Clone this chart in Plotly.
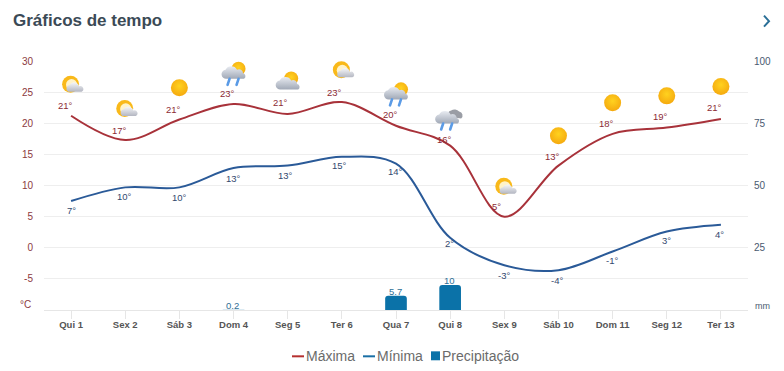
import base64
import plotly.graph_objects as go

days = ["Qui 1", "Sex 2", "Sáb 3", "Dom 4", "Seg 5", "Ter 6", "Qua 7", "Qui 8", "Sex 9", "Sáb 10", "Dom 11", "Seg 12", "Ter 13"]
tmax_curve = [21.2, 17.3, 20.6, 23.1, 21.5, 23.4, 19.6, 16.4, 5.0, 13.2, 18.3, 19.3, 20.7]
tmin_curve = [7.5, 9.7, 9.7, 12.8, 13.2, 14.6, 13.5, 1.6, -2.8, -3.6, -0.6, 2.6, 3.7]
tmax_labels = ["21°", "17°", "21°", "23°", "21°", "23°", "20°", "16°", "5°", "13°", "18°", "19°", "21°"]
tmin_labels = ["7°", "10°", "10°", "13°", "13°", "15°", "14°", "2°", "-3°", "-4°", "-1°", "3°", "4°"]
precip = [0, 0, 0, 0.2, 0, 0, 5.7, 10, 0, 0, 0, 0, 0]
precip_labels = ["", "", "", "0.2", "", "", "5.7", "10", "", "", "", "", ""]
weather = ["suncloud", "suncloud", "sun", "sunrain", "cloudsun", "suncloud", "sunrain", "rain", "suncloud", "sun", "sun", "sun", "sun"]
icon_height = [26.2, 22.3, 25.7, 28.1, 26.7, 28.5, 24.8, 20.6, 9.8, 18.0, 23.3, 24.4, 25.9]
left_ticks = [-10, -5, 0, 5, 10, 15, 20, 25, 30]
left_text = ["", "-5", "0", "5", "10", "15", "20", "25", "30"]
right_ticks = [0, 25, 50, 75, 100]
right_text = ["", "25", "50", "75", "100"]

# style -----------------------------------------------------------------
RED, BLUE, BAR = "#a8323a", "#2a5a98", "#0b72a8"
FONT = "Liberation Sans, Arial, sans-serif"
W, H, L, R, T, B = 784, 371, 44, 36, 60.5, 60.5
max_shift = [10, 10, 10, 10, 11, 10, 11, 6, 10, 9, 10, 11, 11]
min_shift = [-9, -9, -10, -10, -10, -9, -8, -6, -10, -10, -9, -9, -10]
x_px_shift = [-6, -6, -6, -6, -7, -7, -6, -6, -8, -6, -6, -6, -6]
min_px_shift = [0, -1, 0, 0, -2, -2, -1, -1, 0, -1, -1, 0, -1]


def px(v):
    return (v - L) / (W - L - R)


def py(v):
    return (H - B - v) / (H - T - B)


DEFS = """<defs>
<radialGradient id='s' cx='50%' cy='40%' r='60%'><stop offset='0' stop-color='#ffd21f'/><stop offset='1' stop-color='#f5a90f'/></radialGradient>
<linearGradient id='c' x1='0' y1='0' x2='0' y2='1'><stop offset='0' stop-color='#f6f7f9'/><stop offset='1' stop-color='#b4b7c2'/></linearGradient>
<linearGradient id='d' x1='0' y1='0' x2='0' y2='1'><stop offset='0' stop-color='#e8ebf1'/><stop offset='1' stop-color='#a0a8b6'/></linearGradient>
</defs>"""
SMALL_CLOUD = "<path d='M13 23 a3.6 3.6 0 0 1 1.5-6.6 a5.2 5.2 0 0 1 9.6 1.2 a2.9 2.9 0 0 1 2.4 5.4 z' fill='url(#c)'/>"
BIG_CLOUD = "<path d='M9 24 a4.5 4.5 0 0 1 -1 -9 a6.5 6.5 0 0 1 11.5 0 a4 4 0 0 1 6 3.5 a3 3 0 0 1 1 5.5 z' fill='url(#d)'/>"
RAIN = "<path d='M12 24 l-2 6 M21 24 l-2 6' stroke='#5b9be6' stroke-width='2.6' stroke-linecap='round'/>"
ICONS = {
    "sun": "<circle cx='16' cy='16' r='8.5' fill='url(#s)'/>",
    "suncloud": "<circle cx='15.5' cy='15.5' r='8.5' fill='#f9b91a'/><circle cx='16.5' cy='16' r='5.6' fill='#fff3c9'/>" + SMALL_CLOUD,
    "cloudsun": "<circle cx='19.5' cy='13' r='7' fill='url(#s)'/>" + BIG_CLOUD,
    "sunrain": "<circle cx='21' cy='12' r='7' fill='url(#s)'/><g transform='translate(0 -2)'>" + BIG_CLOUD + RAIN + "</g>",
    "rain": "<path d='M14 13 a4 4 0 0 1 3-6 a6 6 0 0 1 8 1 a4 4 0 0 1 2 7 z' fill='#9a9da5'/><g transform='translate(-3 -4)'>" + BIG_CLOUD + RAIN + "</g>",
}


def icon_uri(name):
    svg = f"<svg xmlns='http://www.w3.org/2000/svg' width='64' height='64' viewBox='0 0 32 32'>{DEFS}{ICONS[name]}</svg>"
    return "data:image/svg+xml;base64," + base64.b64encode(svg.encode()).decode()


fig = go.Figure()
fig.add_bar(x=days, y=precip, name="Precipitação", yaxis="y2",
            marker=dict(color=BAR, line_width=0, opacity=[0.15 if v < 1 else 1 for v in precip]),
            showlegend=False)
fig.add_scatter(x=days, y=tmax_curve, name="Máxima", mode="lines", showlegend=False,
                line=dict(color=RED, width=2, shape="spline", smoothing=1.0))
fig.add_scatter(x=days, y=tmin_curve, name="Mínima", mode="lines", showlegend=False,
                line=dict(color=BLUE, width=2, shape="spline", smoothing=1.0))

annotations = []
for i in range(len(days)):
    annotations.append(dict(x=i, y=tmax_curve[i], xref="x", yref="y", text=tmax_labels[i], showarrow=False,
                            xshift=x_px_shift[i], yshift=max_shift[i], font=dict(size=9.5, color="#8c2b35", family=FONT)))
    annotations.append(dict(x=i, y=tmin_curve[i], xref="x", yref="y", text=tmin_labels[i], showarrow=False,
                            xshift=min_px_shift[i], yshift=min_shift[i], font=dict(size=9.5, color="#33496e", family=FONT)))
    if precip_labels[i]:
        annotations.append(dict(x=i, y=precip[i], xref="x", yref="y2", text=precip_labels[i], showarrow=False,
                                xshift=-1, yshift=4.5, font=dict(size=9.5, color="#2f6f96", family=FONT)))


def note(x, y, text, size, color, anchor="left"):
    return dict(x=px(x), y=py(y), xref="paper", yref="paper", xanchor=anchor, yanchor="middle", text=text,
                showarrow=False, font=dict(size=size, color=color, family=FONT))


annotations += [
    note(11, 20, "<b>Gráficos de tempo</b>", 17, "#3b4a56"),
    note(33, 305, "°C", 10, "#8c3a40", "right"),
    note(753, 306, "mm", 9, "#4a5a70"),
    note(304, 357, "Máxima", 14, "#6b6b6b"),
    note(375, 357, "Mínima", 14, "#6b6b6b"),
    note(440, 357, "Precipitação", 14, "#6b6b6b"),
]

images = [dict(source=icon_uri(w), xref="x", yref="y", x=i, y=icon_height[i], sizex=32 / 54.2, sizey=32 / 6.22,
               xanchor="center", yanchor="middle", sizing="stretch", layer="above")
          for i, w in enumerate(weather)]


def segment(x0, x1, color):
    return dict(type="line", xref="paper", yref="paper", x0=px(x0), x1=px(x1), y0=py(357), y1=py(357),
                line=dict(color=color, width=2))


shapes = [
    dict(type="path", xref="paper", yref="paper", line=dict(color="#2a6f97", width=2),
         path=f"M {px(764)} {py(15)} L {px(769)} {py(20.5)} L {px(764)} {py(26)}"),
    segment(292, 304, "#b5302f"),
    segment(363, 375, "#1a6fa5"),
    dict(type="rect", xref="paper", yref="paper", x0=px(431), x1=px(440), y0=py(352), y1=py(361),
         fillcolor=BAR, line_width=0),
]

fig.update_layout(
    width=W, height=H, autosize=False, paper_bgcolor="white", plot_bgcolor="white", showlegend=False,
    margin=dict(l=L, r=R, t=T, b=B), font=dict(family=FONT),
    bargap=0.6, barcornerradius=3, annotations=annotations, images=images, shapes=shapes,
    xaxis=dict(type="category", categoryorder="array", categoryarray=days, range=[-0.5, 12.5], showgrid=False,
               ticks="outside", ticklen=8, tickcolor="#e6e6e6", showline=True, linecolor="#e6e6e6", linewidth=1,
               tickfont=dict(size=9.5, color="#555"), tickprefix="<b>", ticksuffix="</b>", tickangle=0,
               ticklabelstandoff=-2),
    yaxis=dict(range=[-10, 30], tickvals=left_ticks, ticktext=left_text, gridcolor="#eeeeee", gridwidth=1,
               zeroline=False, showline=False, tickfont=dict(size=10, color="#8c3a40"), ticks="", ticklabelstandoff=10),
    yaxis2=dict(range=[0, 100], overlaying="y", side="right", tickvals=right_ticks, ticktext=right_text, showgrid=False,
                zeroline=False, showline=False, tickfont=dict(size=10, color="#4a5a70"), ticks="", ticklabelstandoff=5),
)
fig.write_html("out.html", config={"displayModeBar": False}, post_script="document.body.style.margin='0';")
